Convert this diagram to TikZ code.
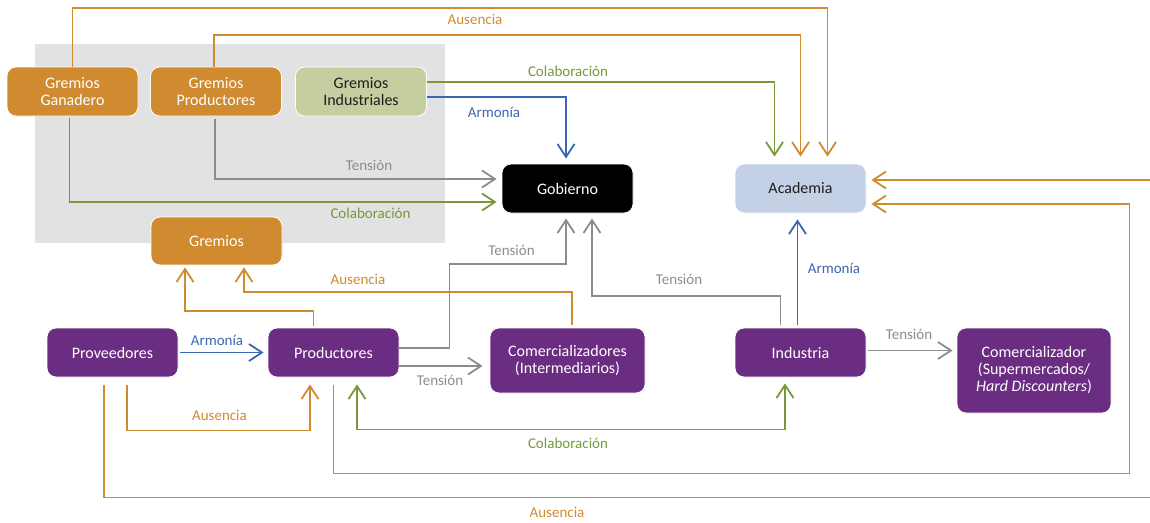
\documentclass[tikz,border=0pt]{standalone}
\usepackage{fontspec}
\setmainfont{Carlito}
\usetikzlibrary{arrows.meta}
\definecolor{cOrange}{HTML}{D08A2F}
\definecolor{cPurple}{HTML}{6B2D81}
\definecolor{cGreen}{HTML}{78983B}
\definecolor{cBlue}{HTML}{3B66B3}
\definecolor{cGray}{HTML}{8C8C8C}
\definecolor{cPanel}{HTML}{E2E2E2}
\definecolor{cSage}{HTML}{C4CE9F}
\definecolor{cSky}{HTML}{C4D0E6}
\definecolor{cInk}{HTML}{1E1E1E}

\begin{document}
\begin{tikzpicture}[x=1pt,y=-1pt,
  >={Straight Barb[length=13pt,width=17pt]},
  box/.style={rounded corners=9pt, minimum width=131pt, minimum height=49pt,
    inner sep=2pt, align=center, font=\fontsize{16}{17}\selectfont,
    draw=white, line width=0.8pt},
  orangebox/.style={box, fill=cOrange, text=white},
  purplebox/.style={box, fill=cPurple, text=white},
  link/.style={line width=1.8pt, shorten >=5pt},
  aus/.style={link, draw=cOrange},
  col/.style={link, draw=cGreen},
  arm/.style={link, draw=cBlue},
  ten/.style={link, draw=cGray},
  lbl/.style={font=\fontsize{15}{17}\selectfont, inner sep=0pt}
]
\useasboundingbox (0,0) rectangle (1150,522);

% grey panel grouping the guilds
\fill[cPanel] (35,44) rectangle (445,243);

% actors
\node[orangebox] (ggan)  at (72.5,91.5)  {Gremios\\Ganadero};
\node[orangebox] (gprod) at (216,91.5)   {Gremios\\Productores};
\node[box, fill=cSage, text=cInk] (gind) at (361,91.5) {Gremios\\Industriales};
\node[box, fill=black, text=white] (gob) at (567.5,188.5) {Gobierno};
\node[box, fill=cSky, text=cInk] (acad) at (800.5,188.5) {Academia};
\node[orangebox, minimum height=48pt] (grem) at (216.5,241) {Gremios};
\node[purplebox] (prov) at (112.5,352.5) {Proveedores};
\node[purplebox] (prod) at (333.5,352.5) {Productores};
\node[purplebox, minimum width=155pt, minimum height=65pt] (comi) at (567.5,360.5)
  {Comercializadores\\(Intermediarios)};
\node[purplebox] (ind) at (800.5,352.5) {Industria};
\node[purplebox, minimum width=154pt, minimum height=85pt] (coms) at (1034,370.5)
  {Comercializador\\(Supermercados/\\\textit{Hard Discounters})};

% relations towards Academia from above
\draw[aus,->,shorten >=7pt] (ggan.north) -- ++(0,-59) -| ([xshift=27pt]acad.north);
\draw[aus,->,shorten >=7pt] ([xshift=-2pt]gprod.north) -- ++(0,-32) -| (acad.north);
\draw[col,->,shorten >=7pt] ([yshift=9.5pt]gind.east) -| ([xshift=-26pt]acad.north);

% relations towards Gobierno
\draw[arm,->] ([yshift=-5.5pt]gind.east) -| ([xshift=-1.5pt]gob.north);
\draw[ten,->,shorten <=3pt] ([xshift=-1pt]gprod.south) |- ([yshift=9.5pt]gob.west);
\draw[col,->,shorten <=2pt] ([xshift=-3pt]ggan.south) |- ([yshift=-13.5pt]gob.west);
\draw[ten,->] ([yshift=4.5pt]prod.east) -- ++(50,0) -- ++(0,-84) -| ([xshift=-1.5pt]gob.south);
\draw[ten,->,shorten <=3pt] ([xshift=-20pt]ind.north) -- ++(0,-32) -| ([xshift=24.5pt]gob.south);
\draw[arm,->,shorten <=3pt,shorten >=6pt] ([xshift=-3pt]ind.north) -- ([xshift=-3pt]acad.south);

% relations towards Gremios
\draw[aus,->,shorten <=3pt,shorten >=2pt] ([xshift=4.5pt]comi.north) -- ++(0,-36) -| ([xshift=27.5pt]grem.south);
\draw[aus,->,shorten <=2pt,shorten >=2pt] ([xshift=-20pt]prod.north) -- ++(0,-17) -| ([xshift=-31.5pt]grem.south);

% chain relations
\draw[arm,->,shorten <=2pt,shorten >=4pt] (prov.east) -- (prod.west);
\draw[ten,->,shorten >=7pt] ([yshift=-13.5pt]prod.east) -- ([yshift=-13.5pt]prod.east -| comi.west);
\draw[aus,->,shorten <=8pt,shorten >=7pt] ([xshift=14.5pt]prov.south) -- ++(0,53) -| ([xshift=-23.5pt]prod.south);
\draw[col,<->,shorten <=7pt,shorten >=6pt] ([xshift=23.5pt]prod.south) -- ++(0,52) -| ([xshift=-15.5pt]ind.south);
\draw[aus,->,shorten <=8pt] (prod.south) -- ++(0,96) -- ++(796,0) |- ([yshift=-15.5pt]acad.east);
\draw[aus,->,shorten <=8pt] ([xshift=-8.5pt]prov.south) -- ++(0,120) -- ++(1060,0) |- ([yshift=8.5pt]acad.east);
\draw[ten,->,shorten <=2pt,shorten >=4pt] ([yshift=2pt]ind.east) -- ([yshift=2pt]ind.east -| coms.west);

% relation labels
\node[lbl, text=cOrange] (lAus1) at (475,19)    {Ausencia};
\node[lbl, text=cGreen]  (lCol1) at (568,71)    {Colaboración};
\node[lbl, text=cBlue]   (lArm1) at (494,112)   {Armonía};
\node[lbl, text=cGray]   (lTen1) at (369,165)   {Tensión};
\node[lbl, text=cGreen]  (lCol2) at (370.5,213) {Colaboración};
\node[lbl, text=cGray]   (lTen2) at (511.5,250.5) {Tensión};
\node[lbl, text=cGray]   (lTen3) at (679,279)   {Tensión};
\node[lbl, text=cBlue]   (lArm2) at (834,268.5) {Armonía};
\node[lbl, text=cOrange] (lAus2) at (358,279)   {Ausencia};
\node[lbl, text=cBlue]   (lArm3) at (217,340)   {Armonía};
\node[lbl, text=cGray]   (lTen4) at (440,380)   {Tensión};
\node[lbl, text=cOrange] (lAus3) at (219.5,415.5) {Ausencia};
\node[lbl, text=cGreen]  (lCol3) at (568,443)   {Colaboración};
\node[lbl, text=cOrange] (lAus4) at (557,512.5) {Ausencia};
\node[lbl, text=cGray]   (lTen5) at (909,334)   {Tensión};
\end{tikzpicture}
\end{document}
